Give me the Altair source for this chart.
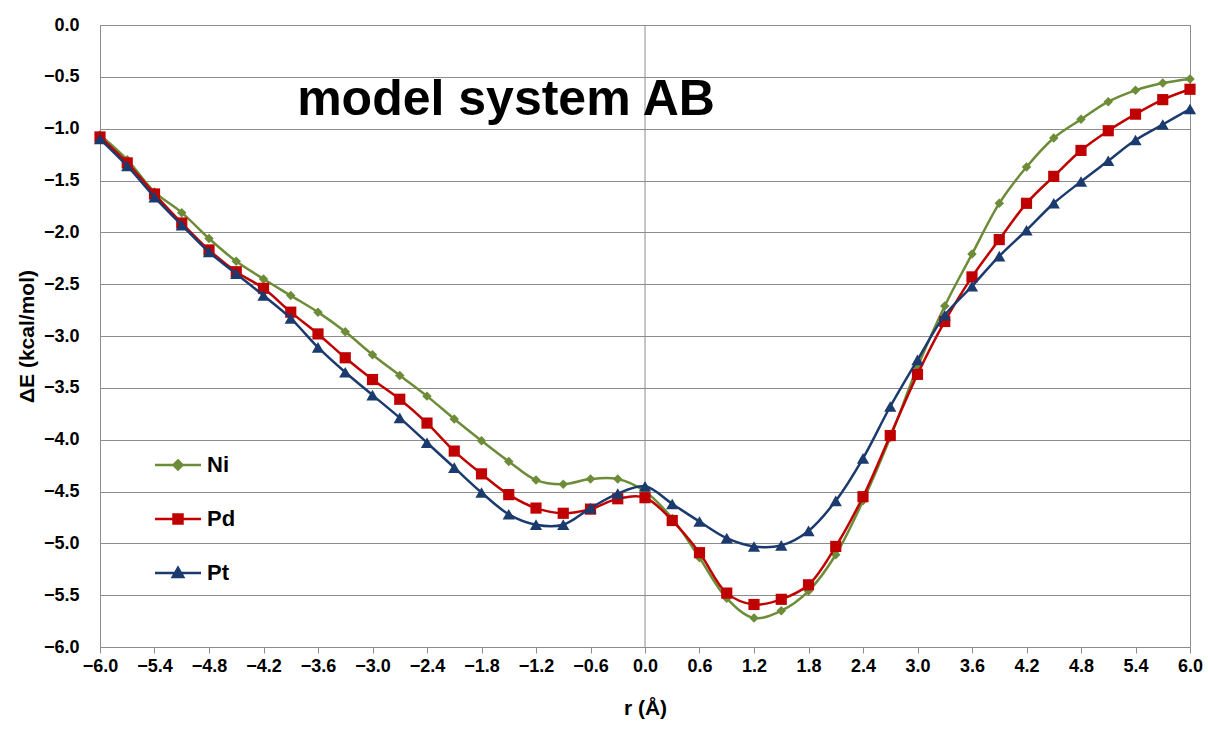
import altair as alt
import pandas as pd

# ---- data ----
r_vals = [-6.0, -5.7, -5.4, -5.1, -4.8, -4.5, -4.2, -3.9, -3.6, -3.3, -3.0,
          -2.7, -2.4, -2.1, -1.8, -1.5, -1.2, -0.9, -0.6, -0.3, 0.0,
          0.3, 0.6, 0.9, 1.2, 1.5, 1.8, 2.1, 2.4, 2.7, 3.0,
          3.3, 3.6, 3.9, 4.2, 4.5, 4.8, 5.1, 5.4, 5.7, 6.0]

ni_vals = [-1.06, -1.30, -1.61, -1.81, -2.06, -2.28, -2.45, -2.61, -2.77, -2.96, -3.18,
           -3.38, -3.58, -3.80, -4.01, -4.21, -4.39, -4.43, -4.38, -4.38, -4.50,
           -4.76, -5.14, -5.53, -5.72, -5.65, -5.46, -5.11, -4.59, -3.98, -3.30,
           -2.71, -2.21, -1.72, -1.37, -1.09, -0.91, -0.74, -0.63, -0.56, -0.52]

pd_vals = [-1.08, -1.33, -1.63, -1.91, -2.17, -2.38, -2.54, -2.77, -2.98, -3.21, -3.42,
           -3.61, -3.84, -4.11, -4.33, -4.53, -4.66, -4.71, -4.67, -4.57, -4.56,
           -4.78, -5.09, -5.48, -5.59, -5.54, -5.40, -5.03, -4.55, -3.96, -3.37,
           -2.86, -2.43, -2.07, -1.72, -1.46, -1.21, -1.02, -0.86, -0.72, -0.62]

pt_vals = [-1.10, -1.36, -1.66, -1.93, -2.19, -2.40, -2.61, -2.83, -3.11, -3.35, -3.57,
           -3.79, -4.03, -4.27, -4.51, -4.72, -4.82, -4.82, -4.66, -4.52, -4.45,
           -4.62, -4.79, -4.95, -5.03, -5.02, -4.88, -4.59, -4.18, -3.68, -3.23,
           -2.80, -2.52, -2.23, -1.98, -1.72, -1.51, -1.31, -1.11, -0.96, -0.81]

metals = ["Ni", "Pd", "Pt"]
x_ticks = [-6.0, -5.4, -4.8, -4.2, -3.6, -3.0, -2.4, -1.8, -1.2, -0.6, 0.0,
           0.6, 1.2, 1.8, 2.4, 3.0, 3.6, 4.2, 4.8, 5.4, 6.0]
y_ticks = [-6.0, -5.5, -5.0, -4.5, -4.0, -3.5, -3.0, -2.5, -2.0, -1.5, -1.0, -0.5, 0.0]
title_text = ["model system AB"]

# ---- styles ----
colors = ["#6C8C38", "#C00000", "#1B3A6E"]
shapes = ["diamond", "square", "triangle-up"]
marker_sizes = [90, 125, 150]
legend_paths = [
    "M-4.6,0H4.6M0,-0.9L0.9,0L0,0.9L-0.9,0Z",
    "M-4.6,0H4.6M-0.9,-0.9H0.9V0.9H-0.9Z",
    "M-4.6,0H4.6M0,-1.05L1.05,0.8H-1.05Z",
]
FONT = "Liberation Sans"
GRID = "#8C8C8C"

rows = []
for m, vals in zip(metals, [ni_vals, pd_vals, pt_vals]):
    for xv, yv in zip(r_vals, vals):
        rows.append({"r": xv, "dE": yv, "metal": m})
df = pd.DataFrame(rows)

xscale = alt.Scale(domain=[-6, 6], nice=False, zero=False)
yscale = alt.Scale(domain=[-6, 0], nice=False, zero=False)
cscale = alt.Scale(domain=metals, range=colors)

X = alt.X("r:Q", scale=xscale,
          axis=alt.Axis(values=x_ticks, format=".1f", title="r (Å)", grid=False,
                        domain=False, ticks=True, tickSize=6, tickColor=GRID,
                        labelFont=FONT, labelFontSize=18, labelFontWeight="bold",
                        labelColor="#000", labelPadding=4, labelFlush=False,
                        titleFont=FONT, titleFontSize=21, titleFontWeight="bold",
                        titleColor="#000", titlePadding=22))
Y = alt.Y("dE:Q", scale=yscale,
          axis=alt.Axis(values=y_ticks, format=".1f", title="ΔE (kcal/mol)", grid=True,
                        gridColor=GRID, gridWidth=1, domain=False, ticks=False,
                        labelFont=FONT, labelFontSize=18, labelFontWeight="bold",
                        labelColor="#000", labelPadding=21,
                        titleFont=FONT, titleFontSize=21, titleFontWeight="bold",
                        titleColor="#000", titlePadding=6))

base = alt.Chart(df)

leg = alt.Legend(title=None, orient="none", legendX=67, legendY=429, padding=0,
                 labelFont=FONT, labelFontSize=22, labelFontWeight="bold", labelColor="#000",
                 symbolSize=100, symbolStrokeWidth=2.5, symbolOpacity=1,
                 rowPadding=32, labelOffset=18, direction="vertical")
legend_layer = base.mark_point(filled=True, size=1).encode(
    x="r:Q", y="dE:Q",
    fill=alt.Fill("metal:N", scale=alt.Scale(domain=metals, range=colors), legend=leg),
    stroke=alt.Stroke("metal:N", scale=alt.Scale(domain=metals, range=colors), legend=leg),
    shape=alt.Shape("metal:N", scale=alt.Scale(domain=metals, range=legend_paths), legend=leg),
)

zero_rule = alt.Chart(pd.DataFrame({"z": [0.0]})).mark_rule(color=GRID, strokeWidth=1).encode(
    x=alt.X("z:Q", scale=xscale))

layers = [legend_layer, zero_rule]
for m, s, sz in zip(metals, shapes, marker_sizes):
    sub = base.transform_filter(alt.datum.metal == m)
    layers.append(sub.mark_line(interpolate="catmull-rom", strokeWidth=2.5).encode(
        x=X, y=Y, color=alt.Color("metal:N", scale=cscale, legend=None)))
    layers.append(sub.mark_point(shape=s, filled=True, size=sz, opacity=1).encode(
        x="r:Q", y="dE:Q", color=alt.Color("metal:N", scale=cscale, legend=None)))

title_layer = alt.Chart(pd.DataFrame({"t": title_text})).mark_text(
    font=FONT, fontSize=50, fontWeight="bold", color="#000",
    align="center", baseline="alphabetic").encode(
    text="t:N", x=alt.value(406), y=alt.value(90))
layers.append(title_layer)

chart = alt.layer(*layers).properties(
    width=1090, height=622,
    autosize=alt.AutoSizeParams(type="none"),
    padding={"left": 100, "top": 25, "right": 18, "bottom": 82},
    background="white",
).configure_view(stroke=GRID, strokeWidth=1)

chart.save("out.html", embed_options={"renderer": "svg", "actions": False})
